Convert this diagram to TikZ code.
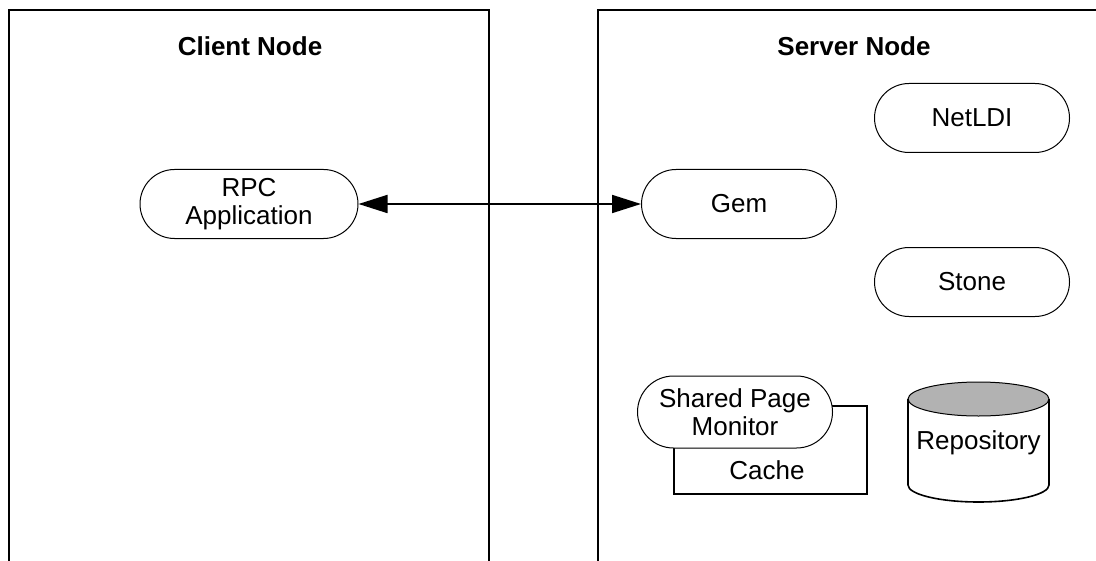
\documentclass[tikz,border=0pt]{standalone}
\usepackage{fontspec}
\setmainfont{Liberation Sans}
\usepackage{tikz}
\usetikzlibrary{arrows.meta}
\usetikzlibrary{shapes}
\usetikzlibrary{positioning}
\usetikzlibrary{calc}

\begin{document}
\begin{tikzpicture}[x=0.5pt,y=0.5pt]
      \tikzstyle{every node}=[font=\fontsize{13}{14}\selectfont]
      \tikzstyle{hostbox}=[draw,line width=1pt]
      \tikzstyle{proc}=[rounded rectangle,draw,line width=0.5pt,fill=white,align=center,inner sep=0pt,minimum width=97.5pt,minimum height=34.5pt]
      \tikzstyle{cachebox}=[draw,line width=0.9pt,inner sep=0pt,minimum width=96.5pt,minimum height=44pt]
      \tikzstyle{link}=[line width=0.9pt,{Triangle[length=14.5pt,width=9pt]}-{Triangle[length=14.5pt,width=9pt]}]

      \useasboundingbox (0,0) rectangle (1096,-561);

      \draw [hostbox] (9,-561) |- (489,-10) -- (489,-561);
      \draw [hostbox] (598,-561) |- (1096,-10);
      \node (client) at (250,-46) {\bfseries Client Node};
      \node (server) at (854,-46) {\bfseries Server Node};

      \node [proc,minimum width=109pt] (rpc) at (249,-204) {RPC\\Application};
      \node [proc] (gem) at (739,-204) {Gem};
      \node [proc] (netldi) at (972,-118) {NetLDI};
      \node [proc] (stone) at (972,-282) {Stone};

      \node [cachebox] (cachebox) at (770.5,-450) {};
      \node (cache) at (767,-470) {Cache};
      \node [proc,minimum height=36pt] (spm) at (735,-412) {Shared Page\\Monitor};

      \fill [gray!60] (978.5,-399) ellipse (70.5 and 17);
      \draw [line width=0.5pt] (978.5,-399) ellipse (70.5 and 17);
      \draw [line width=0.8pt] (908,-399) -- (908,-485) arc (180:360:70.5 and 17) -- (1049,-399);
      \node (repo) at (978.5,-443) {Repository};

      \draw [link] (rpc) -- (gem);
\end{tikzpicture}
\end{document}
